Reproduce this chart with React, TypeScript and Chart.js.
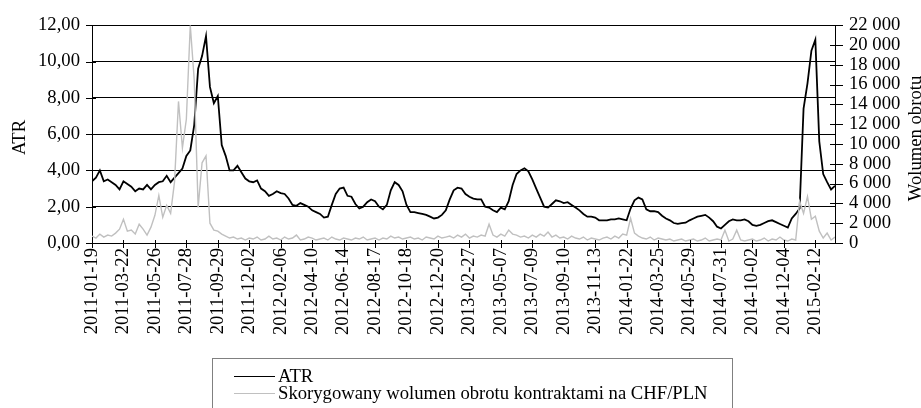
import React, { useEffect, useRef } from "react";
import { Chart, registerables } from "chart.js";

Chart.register(...registerables);

// Tick labels on the x axis (one every 8 data points)
const tickLabels = [
  "2011-01-19", "2011-03-22", "2011-05-26", "2011-07-28", "2011-09-29", "2011-12-02",
  "2012-02-06", "2012-04-10", "2012-06-14", "2012-08-17", "2012-10-18", "2012-12-20",
  "2013-02-27", "2013-05-07", "2013-07-09", "2013-09-10", "2013-11-13", "2014-01-22",
  "2014-03-25", "2014-05-29", "2014-07-31", "2014-10-02", "2014-12-04", "2015-02-12",
];
const pointsPerLabel = 8;

// ATR (left axis)
const atr = [
  3.40, 3.60, 4.00, 3.40, 3.50, 3.35, 3.20, 2.95, 3.40, 3.25,
  3.10, 2.85, 3.00, 2.95, 3.20, 2.95, 3.20, 3.35, 3.40, 3.70,
  3.35, 3.60, 3.85, 4.10, 4.80, 5.10, 6.50, 9.60, 10.30, 11.40,
  8.60, 7.70, 8.10, 5.40, 4.80, 4.00, 4.00, 4.25, 3.90, 3.55,
  3.40, 3.35, 3.45, 3.00, 2.85, 2.60, 2.70, 2.85, 2.75, 2.70,
  2.45, 2.10, 2.05, 2.20, 2.10, 2.00, 1.80, 1.70, 1.60, 1.40,
  1.45, 2.10, 2.70, 3.00, 3.05, 2.60, 2.55, 2.15, 1.90, 2.00,
  2.25, 2.40, 2.30, 2.00, 1.85, 2.10, 2.90, 3.35, 3.20, 2.85,
  2.10, 1.70, 1.70, 1.65, 1.60, 1.55, 1.45, 1.35, 1.40, 1.55,
  1.80, 2.40, 2.90, 3.05, 3.00, 2.70, 2.55, 2.45, 2.40, 2.40,
  2.00, 1.95, 1.80, 1.70, 1.95, 1.85, 2.30, 3.20, 3.80, 4.00,
  4.12, 3.95, 3.50, 3.00, 2.50, 2.00, 1.95, 2.15, 2.35, 2.30,
  2.20, 2.25, 2.10, 1.95, 1.80, 1.60, 1.45, 1.45, 1.40, 1.25,
  1.25, 1.25, 1.30, 1.30, 1.35, 1.30, 1.25, 1.90, 2.35, 2.50,
  2.40, 1.85, 1.75, 1.75, 1.70, 1.50, 1.35, 1.25, 1.10, 1.05,
  1.10, 1.12, 1.25, 1.35, 1.45, 1.50, 1.55, 1.40, 1.20, 0.90,
  0.80, 1.00, 1.20, 1.30, 1.25, 1.25, 1.30, 1.20, 1.00, 0.95,
  1.00, 1.10, 1.20, 1.25, 1.15, 1.05, 0.95, 0.85, 1.35, 1.60,
  1.90, 7.40, 8.80, 10.60, 11.20, 5.60, 3.80, 3.35, 2.95, 3.15,
];

// Adjusted CHF/PLN contract turnover (right axis)
const volume = [
  700, 500, 900, 600, 800, 700, 1000, 1400, 2400, 1200,
  1300, 900, 1900, 1400, 800, 1600, 2800, 4800, 2600, 3800,
  3000, 6200, 14300, 9600, 12500, 22000, 16500, 3600, 8100, 8800,
  2000, 1300, 1200, 900, 700, 500, 600, 400, 500, 300,
  500, 400, 600, 300, 400, 700, 400, 500, 300, 600,
  400, 500, 800, 300, 400, 600, 500, 300, 400, 500,
  300, 600, 400, 300, 500, 400, 300, 500, 400, 600,
  300, 400, 500, 300, 500, 400, 700, 500, 600, 400,
  500, 600, 400, 500, 300, 600, 500, 400, 700, 500,
  600, 700, 500, 800, 600, 900, 500, 700, 600, 800,
  700, 1900, 800, 600, 900, 700, 1300, 900, 800, 600,
  700, 500, 800, 600, 900, 700, 1100, 600, 800, 500,
  600, 400, 700, 500, 400, 600, 300, 500, 400, 300,
  500, 600, 400, 700, 500, 900, 800, 2500, 1000, 700,
  500, 400, 600, 300, 500, 400, 300, 400, 200, 300,
  400, 200, 300, 400, 200, 300, 500, 200, 300, 400,
  300, 1300, 200, 400, 1300, 300, 200, 300, 400, 200,
  300, 500, 200, 400, 300, 600, 300, 200, 400, 300,
  4200, 3000, 4700, 2400, 2700, 1200, 500, 1000, 300, 600,
];

const atrLabel = "ATR";
const volumeLabel = "Skorygowany wolumen obrotu kontraktami na CHF/PLN";
const leftTitle = "ATR";
const rightTitle = "Wolumen obrotu";

const FONT = "'Liberation Serif', 'Times New Roman', serif";
const FS = 18.67;

const crossTicks = {
  id: "crossTicks",
  afterDraw(chart: any) {
    const { ctx, chartArea, scales } = chart;
    ctx.save();
    ctx.strokeStyle = "#000";
    ctx.lineWidth = 1;
    ctx.beginPath();
    scales.y.ticks.forEach((t: any) => {
      const y = Math.round(scales.y.getPixelForValue(t.value)) + 0.5;
      ctx.moveTo(chartArea.left - 6, y);
      ctx.lineTo(chartArea.left + 4, y);
    });
    scales.y1.ticks.forEach((t: any) => {
      const y = Math.round(scales.y1.getPixelForValue(t.value)) + 0.5;
      ctx.moveTo(chartArea.right - 5, y);
      ctx.lineTo(chartArea.right + 8, y);
    });
    scales.x.ticks.forEach((t: any) => {
      const x = Math.round(scales.x.getPixelForValue(t.value)) + 0.5;
      ctx.moveTo(x, chartArea.bottom - 3);
      ctx.lineTo(x, chartArea.bottom + 5);
    });
    ctx.stroke();

    ctx.fillStyle = "#000";
    ctx.font = `${FS}px ${FONT}`;
    ctx.textAlign = "center";
    ctx.textBaseline = "alphabetic";
    ctx.save();
    ctx.translate(25, 137.5);
    ctx.rotate(-Math.PI / 2);
    ctx.fillText(leftTitle, 0, 0);
    ctx.restore();
    ctx.save();
    ctx.translate(921, 138.5);
    ctx.rotate(-Math.PI / 2);
    ctx.fillText(rightTitle, 0, 0);
    ctx.restore();
    ctx.restore();
  },
};

export default function App() {
  const canvasRef = useRef<HTMLCanvasElement | null>(null);

  useEffect(() => {
    document.body.style.margin = "0";
    const canvas = canvasRef.current;
    if (!canvas) return;
    Chart.defaults.font.family = FONT;
    Chart.defaults.font.size = FS;
    Chart.defaults.color = "#000";

    const chart = new Chart(canvas, {
      type: "line",
      data: {
        datasets: [
          {
            label: atrLabel,
            data: atr.map((v, i) => ({ x: i, y: v })),
            borderColor: "#000",
            borderWidth: 1.8,
            pointRadius: 0,
            tension: 0,
            yAxisID: "y",
            order: 2,
          },
          {
            label: volumeLabel,
            data: volume.map((v, i) => ({ x: i, y: v })),
            borderColor: "#c0c0c0",
            borderWidth: 1.4,
            pointRadius: 0,
            tension: 0,
            yAxisID: "y1",
            order: 1,
          },
        ],
      },
      options: {
        animation: false,
        responsive: false,
        layout: { padding: { top: 18, bottom: 0, left: 0, right: 0 } },
        plugins: {
          legend: { display: false },
          tooltip: { enabled: false },
        },
        scales: {
          x: {
            type: "linear",
            min: 0,
            max: atr.length - 1,
            grid: { display: false, drawTicks: false },
            border: { display: true, color: "#000", width: 1 },
            ticks: {
              stepSize: pointsPerLabel,
              includeBounds: false,
              autoSkip: false,
              maxRotation: 90,
              minRotation: 90,
              padding: 5,
              font: { size: FS, family: FONT },
              callback: (v: any) => {
                const i = Number(v) / pointsPerLabel;
                return Number.isInteger(i) && tickLabels[i] ? tickLabels[i] : null;
              },
            },
            afterFit: (s: any) => {
              s.height = 165;
            },
          },
          y: {
            position: "left",
            min: 0,
            max: 12,
            grid: { color: "#000", lineWidth: 1, drawTicks: false },
            border: { display: true, color: "#000", width: 1 },
            ticks: {
              stepSize: 2,
              autoSkip: false,
              padding: 12,
              font: { size: FS, family: FONT },
              callback: (v: any) => Number(v).toFixed(2).replace(".", ","),
            },
            afterFit: (s: any) => {
              s.width = 92;
            },
          },
          y1: {
            position: "right",
            min: 0,
            max: 22000,
            grid: { drawOnChartArea: false, drawTicks: false },
            border: { display: true, color: "#000", width: 1 },
            ticks: {
              stepSize: 2000,
              autoSkip: false,
              padding: 14,
              font: { size: FS, family: FONT },
              callback: (v: any) => {
                const n = Math.round(Number(v));
                return n >= 1000
                  ? `${Math.floor(n / 1000)} ${String(n % 1000).padStart(3, "0")}`
                  : String(n);
              },
            },
            afterFit: (s: any) => {
              s.width = 86;
            },
          },
        },
      },
      plugins: [crossTicks],
    });
    return () => chart.destroy();
  }, []);

  return (
    <div style={{ position: "relative", width: 921, height: 408, background: "#fff", overflow: "hidden" }}>
      <canvas ref={canvasRef} width={921} height={408} style={{ display: "block", width: 921, height: 408 }} />
      <div
        style={{
          position: "absolute",
          left: 212,
          top: 358,
          width: 521,
          height: 52,
          border: "1px solid #808080",
          boxSizing: "border-box",
          fontFamily: FONT,
          fontSize: FS,
          color: "#000",
        }}
      >
        <div style={{ position: "absolute", left: 21, top: 17, width: 41, height: 0, borderTop: "1.6px solid #000" }} />
        <div style={{ position: "absolute", left: 65, top: 6, lineHeight: "22px", whiteSpace: "nowrap" }}>{atrLabel}</div>
        <div style={{ position: "absolute", left: 21, top: 34, width: 41, height: 0, borderTop: "1.4px solid #c0c0c0" }} />
        <div style={{ position: "absolute", left: 65, top: 23, lineHeight: "22px", whiteSpace: "nowrap" }}>{volumeLabel}</div>
      </div>
    </div>
  );
}
